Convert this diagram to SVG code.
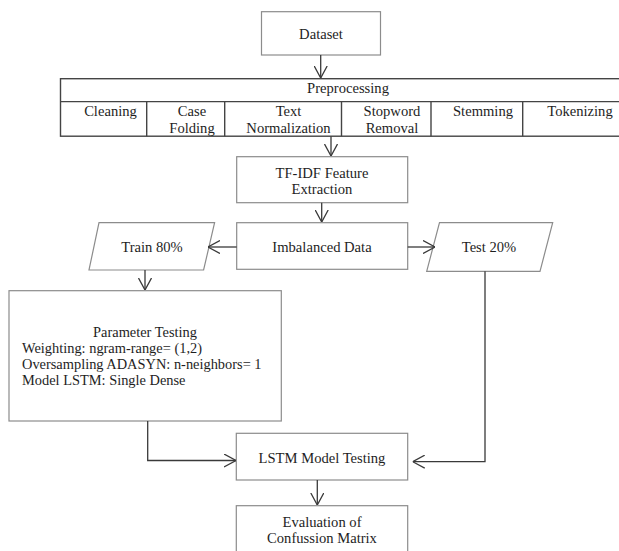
<svg xmlns="http://www.w3.org/2000/svg" width="619" height="551" viewBox="0 0 619 551">
<style>
text{font-family:"Liberation Serif","Times New Roman",serif;font-size:14.6px;fill:#1e1e1e;}
.c{text-anchor:middle;}
.p{font-size:14.4px;}
.box{fill:#fff;stroke:#8c8c8c;stroke-width:1.2;}
.tbl{fill:none;stroke:#444;stroke-width:1.4;}
.arr{fill:none;stroke:#3a3a3a;stroke-width:1.3;marker-end:url(#ah);}
</style>
<defs>
<marker id="ah" viewBox="0 0 12 14" refX="12" refY="7" markerWidth="12" markerHeight="14" markerUnits="userSpaceOnUse" orient="auto">
<path d="M0,0.5 L12,7 L0,13.5" fill="none" stroke="#3a3a3a" stroke-width="1.3"/>
</marker>
</defs>
<rect width="619" height="551" fill="#fff"/>
<g id="dataset">
<rect class="box" x="261.5" y="11.7" width="119" height="43.3"/>
<text class="c" x="321" y="39">Dataset</text>
</g>
<g id="preprocessing">
<rect class="tbl" x="60.5" y="78.7" width="570" height="57.5"/>
<line class="tbl" x1="60.5" y1="101.6" x2="630" y2="101.6"/>
<line class="tbl" x1="146.7" y1="101.6" x2="146.7" y2="136.2"/>
<line class="tbl" x1="224.7" y1="101.6" x2="224.7" y2="136.2"/>
<line class="tbl" x1="341.5" y1="101.6" x2="341.5" y2="136.2"/>
<line class="tbl" x1="431" y1="101.6" x2="431" y2="136.2"/>
<line class="tbl" x1="522.7" y1="101.6" x2="522.7" y2="136.2"/>
<text class="c" x="348" y="93.3">Preprocessing</text>
<text class="c" x="110.5" y="116.3">Cleaning</text>
<text class="c" x="192" y="116.3">Case</text>
<text class="c" x="192" y="132.5">Folding</text>
<text class="c" x="288.5" y="116.3">Text</text>
<text class="c" x="288.5" y="132.5">Normalization</text>
<text class="c" x="392" y="116.3">Stopword</text>
<text class="c" x="392" y="132.5">Removal</text>
<text class="c" x="483" y="116.3">Stemming</text>
<text class="c" x="580" y="116.3">Tokenizing</text>
</g>
<g id="tfidf">
<rect class="box" x="236.7" y="156.7" width="171" height="46"/>
<text class="c" x="322" y="177.7">TF-IDF Feature</text>
<text class="c" x="322" y="194">Extraction</text>
</g>
<g id="imbalanced">
<rect class="box" x="236.7" y="222.7" width="171" height="46.6"/>
<text class="c" x="322" y="252">Imbalanced Data</text>
</g>
<g id="train">
<polygon class="box" points="99,222.7 214.6,222.7 203.6,270 89,270"/>
<text class="c" x="152" y="252">Train 80%</text>
</g>
<g id="test">
<polygon class="box" points="439.5,222.7 552.7,222.7 540,271.3 426.7,271.3"/>
<text class="c" x="489" y="252">Test 20%</text>
</g>
<g id="params">
<rect class="box" x="9" y="290.7" width="272.3" height="130.3"/>
<text class="c p" x="145" y="337.3">Parameter Testing</text>
<text class="p" x="22" y="353.3">Weighting: ngram-range= (1,2)</text>
<text class="p" x="22" y="369.3">Oversampling ADASYN: n-neighbors= 1</text>
<text class="p" x="22" y="385.3">Model LSTM: Single Dense</text>
</g>
<g id="lstm">
<rect class="box" x="236.3" y="433.3" width="171.4" height="46.7"/>
<text class="c" x="322" y="463">LSTM Model Testing</text>
</g>
<g id="evaluation">
<rect class="box" x="236.3" y="505.7" width="171.4" height="60"/>
<text class="c" x="322" y="527.3">Evaluation of</text>
<text class="c" x="322" y="543.3">Confussion Matrix</text>
</g>
<g id="connectors">
<line class="arr" x1="320.7" y1="55" x2="320.7" y2="78"/>
<line class="arr" x1="331" y1="136.2" x2="331" y2="156"/>
<line class="arr" x1="321.7" y1="202.7" x2="321.7" y2="222"/>
<line class="arr" x1="236.7" y1="247" x2="208" y2="247"/>
<line class="arr" x1="407.7" y1="247" x2="435" y2="247"/>
<line class="arr" x1="145" y1="270" x2="145" y2="290"/>
<polyline class="arr" points="147.7,421 147.7,460.5 236,460.5"/>
<polyline class="arr" points="485,271.3 485,461.7 412.7,461.7"/>
<line class="arr" x1="317.3" y1="480" x2="317.3" y2="505"/>
</g>
</svg>
